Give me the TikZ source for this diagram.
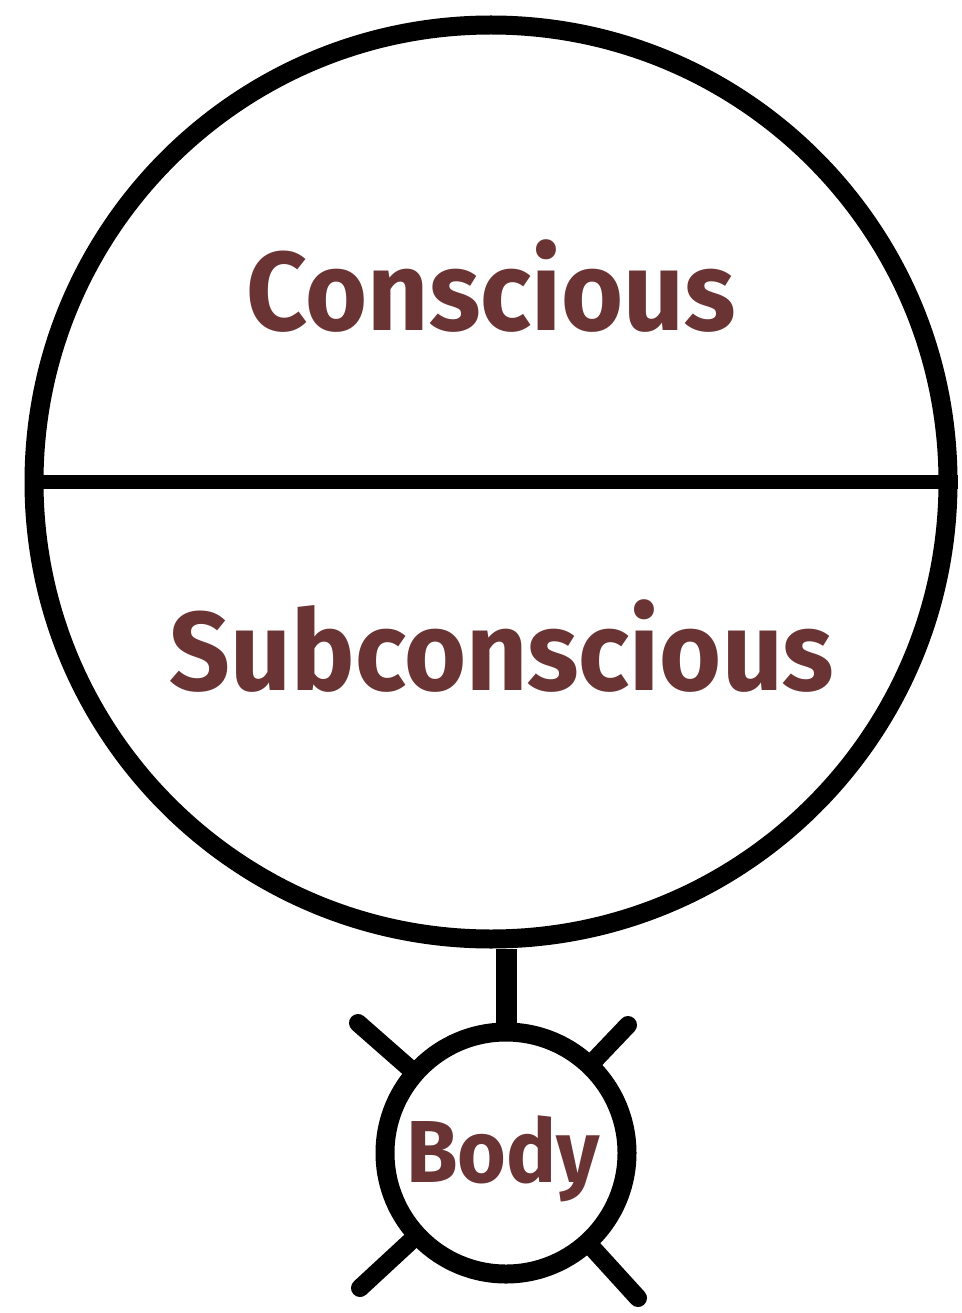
\documentclass[tikz,border=0pt]{standalone}
\usepackage{fontspec}
\setmainfont{Fira Sans}[FakeStretch=0.95]
\usepackage{xcolor}
\usepackage{tikz}
\usetikzlibrary{positioning}

\definecolor{mindred}{RGB}{107,52,52}

\begin{document}
\begin{tikzpicture}[
  x=1pt,y=-1pt,
  every node/.style={text=mindred},
  word/.style={font=\fontsize{112}{112}\selectfont\bfseries,anchor=base,inner sep=0pt},
  tag/.style={font=\fontsize{88}{88}\selectfont\bfseries,anchor=base,inner sep=0pt},
  ring/.style={draw=black,circle,line width=19pt,inner sep=0pt},
  bar/.style={draw=black,line width=14pt},
  spike/.style={draw=black,line width=18pt,line cap=round},
]
\useasboundingbox (0,0) rectangle (961,1313);
% mind and body
\node[ring,minimum size=914pt] (mind) at (491,482) {};
\node[ring,minimum size=242pt] (body) at (506,1153) {};
\draw[bar] (mind.west) -- (mind.east);
\draw[bar,line width=21pt] (body.north) -- (body.north |- mind.south);
% four legs
\coordinate (ul) at (358,1023);
\coordinate (ur) at (628,1025);
\coordinate (dl) at (360,1288);
\coordinate (dr) at (638,1298);
\foreach \c in {ul,ur,dl,dr}
  \draw[spike] (body) -- (\c);
% labels
\node[word] (con) at (491,330) {Conscious};
\node[word] (sub) at (502,690) {Subconscious};
\node[tag] (bod) at (503,1182) {Body};
\end{tikzpicture}
\end{document}
